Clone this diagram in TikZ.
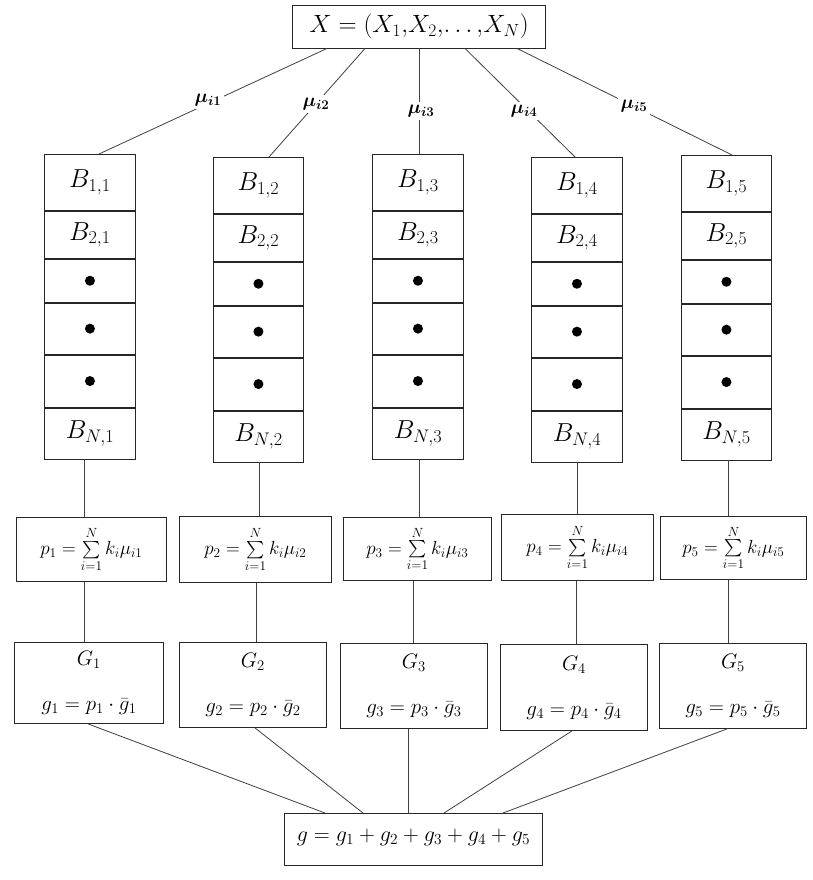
\RequirePackage{fix-cm}
\documentclass[tikz,border=0pt]{standalone}
\usepackage{exscale}
\usepackage{bm}
\newcommand\mkcol[4]{% #1 column, #2 left x, #3 right x, #4 top y
  \node[box,minimum width=#3-#2,minimum height=56,anchor=north west] (B1-#1) at (#2,#4) {$B_{1,#1}$};
  \node[box,minimum width=#3-#2,minimum height=47,anchor=north] (B2-#1) at (B1-#1.south) {$B_{2,#1}$};
  \node[box,minimum width=#3-#2,minimum height=43,anchor=north] (D1-#1) at (B2-#1.south) {};
  \node[box,minimum width=#3-#2,minimum height=51,anchor=north] (D2-#1) at (D1-#1.south) {};
  \node[box,minimum width=#3-#2,minimum height=52,anchor=north] (D3-#1) at (D2-#1.south) {};
  \node[box,minimum width=#3-#2,minimum height=51,anchor=north] (BN-#1) at (D3-#1.south) {$B_{N,#1}$};
  \node[dotc] (d1-#1) at (D1-#1.center) {};
  \node[dotc] (d2-#1) at (D2-#1.center) {};
  \node[dotc] (d3-#1) at (D3-#1.center) {};
}
\begin{document}
\begin{tikzpicture}[x=1pt,y=-1pt,
  box/.style={draw=black!85,line width=0.9pt,inner sep=0pt,rectangle,font=\fontsize{26}{30}\selectfont},
  pbox/.style={box,font=\fontsize{19}{22}\selectfont},
  gbox/.style={box,align=center,font=\fontsize{21}{45}\selectfont},
  conn/.style={draw=black!75,line width=0.8pt},
  lab/.style={fill=white,inner sep=3pt,font=\fontsize{19}{22}\selectfont},
  dotc/.style={circle,fill=black,draw=none,inner sep=0pt,minimum size=10pt}]
\useasboundingbox (0,0) rectangle (812,880);
\fill[white] (0,0) rectangle (812,880);

% top box
\node[box,minimum width=253,minimum height=43,font=\fontsize{25}{28}\selectfont] (X) at (419,26.5) {$X=\left(X_1,\!X_2,\!\ldots,\!X_N\right)$};

% B columns
\mkcol{1}{44}{135}{154}
\mkcol{2}{213}{303}{157}
\mkcol{3}{372}{463}{154}
\mkcol{4}{531}{622}{157}
\mkcol{5}{681}{771}{155}

% p boxes
\node[pbox,minimum width=150,minimum height=64,anchor=north west] (P1) at (16,517) {$p_1=\sum\limits_{i=1}^{N}k_i\mu_{i1}$};
\node[pbox,minimum width=152,minimum height=66,anchor=north west] (P2) at (179,516) {$p_2=\sum\limits_{i=1}^{N}k_i\mu_{i2}$};
\node[pbox,minimum width=148,minimum height=63,anchor=north west] (P3) at (343,517) {$p_3=\sum\limits_{i=1}^{N}k_i\mu_{i3}$};
\node[pbox,minimum width=152,minimum height=66,anchor=north west] (P4) at (501,514) {$p_4=\sum\limits_{i=1}^{N}k_i\mu_{i4}$};
\node[pbox,minimum width=146,minimum height=63,anchor=north west] (P5) at (660,516) {$p_5=\sum\limits_{i=1}^{N}k_i\mu_{i5}$};

% G boxes
\node[gbox,minimum width=149,minimum height=81,anchor=north west] (G1) at (14,642) {$G_1$\\$g_1=p_1\cdot\bar{g}_1$};
\node[gbox,minimum width=147,minimum height=85,anchor=north west] (G2) at (179,642) {$G_2$\\$g_2=p_2\cdot\bar{g}_2$};
\node[gbox,minimum width=147,minimum height=85,anchor=north west] (G3) at (340,643) {$G_3$\\$g_3=p_3\cdot\bar{g}_3$};
\node[gbox,minimum width=147,minimum height=86,anchor=north west] (G4) at (500,644) {$G_4$\\$g_4=p_4\cdot\bar{g}_4$};
\node[gbox,minimum width=147,minimum height=85,anchor=north west] (G5) at (659,643) {$G_5$\\$g_5=p_5\cdot\bar{g}_5$};

% bottom box
\node[box,minimum width=258,minimum height=52,anchor=north west,font=\fontsize{22}{24}\selectfont] (S) at (284,813) {$g=g_1+g_2+g_3+g_4+g_5$\rule[-8pt]{0pt}{8pt}};

% x positions for connectors
\coordinate (ta1) at (327,0); \coordinate (tb1) at (99,0);
\coordinate (ta2) at (365,0); \coordinate (tb2) at (269,0);
\coordinate (ta3) at (419,0); \coordinate (tb3) at (419,0);
\coordinate (ta4) at (465,0); \coordinate (tb4) at (575,0);
\coordinate (ta5) at (517,0); \coordinate (tb5) at (732,0);
\coordinate (v1) at (84,0);  \coordinate (w1) at (84,0);
\coordinate (v2) at (259,0); \coordinate (w2) at (256,0);
\coordinate (v3) at (419,0); \coordinate (w3) at (413,0);
\coordinate (v4) at (577,0); \coordinate (w4) at (576,0);
\coordinate (v5) at (728,0); \coordinate (w5) at (728,0);
\coordinate (ga1) at (88,0);  \coordinate (gb1) at (325,0);
\coordinate (ga2) at (255,0); \coordinate (gb2) at (363,0);
\coordinate (ga3) at (408,0); \coordinate (gb3) at (408,0);
\coordinate (ga4) at (572,0); \coordinate (gb4) at (444,0);
\coordinate (ga5) at (727,0); \coordinate (gb5) at (503,0);

\foreach \i in {1,...,5}{
  \draw[conn] (X.south -| ta\i) -- (B1-\i.north -| tb\i);
  \draw[conn] (BN-\i.south -| v\i) -- (P\i.north -| v\i);
  \draw[conn] (P\i.south -| w\i) -- (G\i.north -| w\i);
  \draw[conn] (G\i.south -| ga\i) -- (S.north -| gb\i);
}

% mu labels
\node[lab] (mu1) at (208,100) {$\bm{\mu}_{\bm{i1}}$};
\node[lab] (mu2) at (316,104) {$\bm{\mu}_{\bm{i2}}$};
\node[lab] (mu3) at (421,111) {$\bm{\mu}_{\bm{i3}}$};
\node[lab] (mu4) at (524,111) {$\bm{\mu}_{\bm{i4}}$};
\node[lab] (mu5) at (634,106) {$\bm{\mu}_{\bm{i5}}$};
\end{tikzpicture}
\end{document}
